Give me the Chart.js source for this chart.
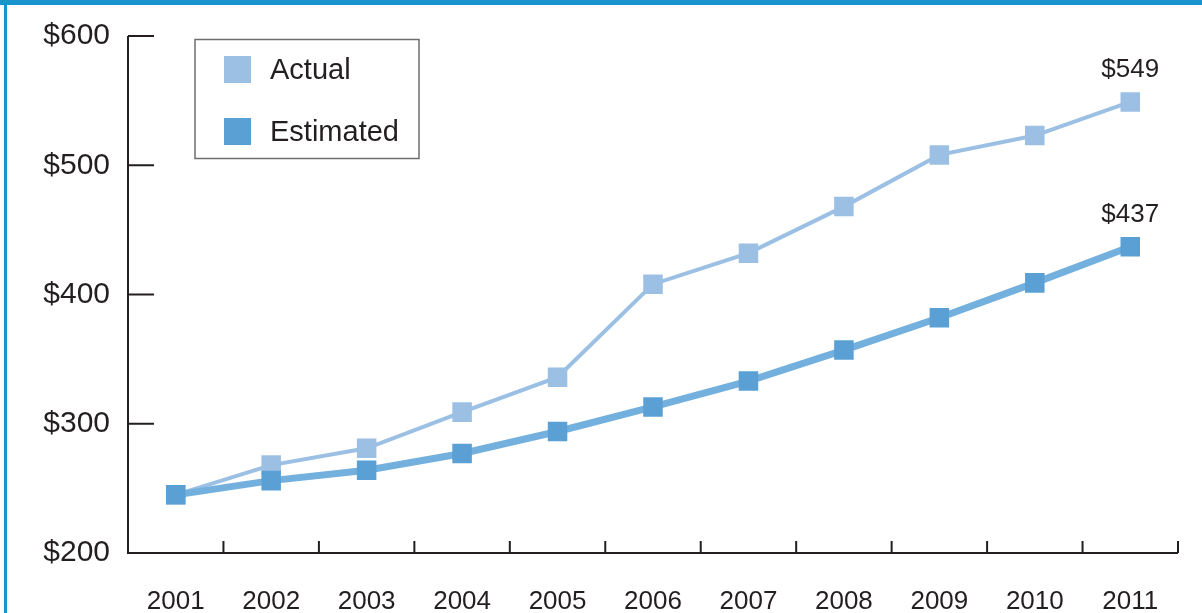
<!DOCTYPE html>
<html>
<head>
<meta charset="utf-8">
<script src="https://cdn.jsdelivr.net/npm/chart.js@4/dist/chart.umd.min.js"></script>
<style>
    html, body { margin: 0; padding: 0; background: #fff; }
    #wrap { position: relative; width: 1202px; height: 613px; overflow: hidden; }
    #topbar { position: absolute; left: 0; top: 0; width: 1202px; height: 5px; background: #1a94cf; }
    #leftbar { position: absolute; left: 4px; top: 0; width: 3px; height: 613px; background: #1a94cf; }
</style>
</head>
<body>
<div id="wrap">
    <canvas id="chart" width="1202" height="613"></canvas>
    <div id="topbar"></div>
    <div id="leftbar"></div>
</div>
<script>
// Chart data
const years = ['2001', '2002', '2003', '2004', '2005', '2006', '2007', '2008', '2009', '2010', '2011'];
const actual = [245, 268, 281, 309, 336, 408, 432, 468, 508, 523, 549];
const estimated = [245, 256, 264, 277, 294, 313, 333, 357, 382, 409, 437];
const yTicks = [200, 300, 400, 500, 600];

const FONT = '"Liberation Sans", Arial, sans-serif';
const INK = '#231f20';

// axis lines + inward tick marks
const axesFrame = {
    id: 'axesFrame',
    afterDraw(chart) {
        const { ctx, chartArea } = chart;
        const x = chart.scales.x;
        const y = chart.scales.y;
        ctx.save();
        ctx.strokeStyle = INK;
        ctx.lineWidth = 2;
        ctx.beginPath();
        ctx.moveTo(chartArea.left, chartArea.top);
        ctx.lineTo(chartArea.left, chartArea.bottom);
        ctx.lineTo(chartArea.right, chartArea.bottom);
        yTicks.forEach(v => {
            const py = y.getPixelForValue(v);
            ctx.moveTo(chartArea.left, py);
            ctx.lineTo(chartArea.left + 26, py);
        });
        const step = (chartArea.right - chartArea.left) / years.length;
        for (let i = 1; i <= years.length; i++) {
            const px = x.getPixelForValue(i - 1) + step / 2;
            ctx.moveTo(px, chartArea.bottom);
            ctx.lineTo(px, chartArea.bottom - 12);
        }
        ctx.stroke();
        ctx.restore();
    }
};

// boxed legend in the top-left corner
const boxLegend = {
    id: 'boxLegend',
    afterDraw(chart) {
        const { ctx } = chart;
        ctx.save();
        ctx.strokeStyle = '#6d6e71';
        ctx.lineWidth = 1.5;
        ctx.strokeRect(195, 39.5, 224, 119);
        ctx.font = '29px ' + FONT;
        ctx.textBaseline = 'middle';
        ctx.fillStyle = INK;
        chart.data.datasets.forEach((ds, i) => {
            const top = 56 + i * 62;
            ctx.fillStyle = ds.pointBackgroundColor;
            ctx.fillRect(224, top, 27, 27);
            ctx.fillStyle = INK;
            ctx.fillText(ds.label, 270, top + 15);
        });
        ctx.restore();
    }
};

// value label above the last point of each series
const endLabels = {
    id: 'endLabels',
    afterDatasetsDraw(chart) {
        const { ctx } = chart;
        ctx.save();
        ctx.font = '26px ' + FONT;
        ctx.fillStyle = INK;
        ctx.textAlign = 'center';
        ctx.textBaseline = 'middle';
        chart.data.datasets.forEach((ds, i) => {
            const pts = chart.getDatasetMeta(i).data;
            const last = pts[pts.length - 1];
            ctx.fillText('$' + ds.data[ds.data.length - 1], last.x, last.y - 32);
        });
        ctx.restore();
    }
};

new Chart(document.getElementById('chart'), {
    type: 'line',
    data: {
        labels: years,
        datasets: [{
            label: 'Actual',
            data: actual,
            borderColor: '#9bc0e4',
            borderWidth: 4,
            pointStyle: 'rect',
            pointRadius: 13.8,
            pointBorderWidth: 0,
            pointBackgroundColor: '#9bc0e4',
            tension: 0,
            order: 1
        }, {
            label: 'Estimated',
            data: estimated,
            borderColor: '#74b0de',
            borderWidth: 7,
            pointStyle: 'rect',
            pointRadius: 13.8,
            pointBorderWidth: 0,
            pointBackgroundColor: '#5aa0d5',
            tension: 0,
            order: 0
        }]
    },
    options: {
        responsive: false,
        animation: false,
        layout: { padding: { top: 33, right: 24, left: 0, bottom: 0 } },
        plugins: {
            legend: { display: false },
            tooltip: { enabled: false }
        },
        scales: {
            x: {
                type: 'category',
                offset: true,
                grid: { display: false, drawTicks: false },
                border: { display: false },
                ticks: { color: INK, font: { family: FONT, size: 26 }, padding: 33, maxRotation: 0 },
                afterFit(scale) { scale.height = 60; }
            },
            y: {
                min: 200,
                max: 600,
                grid: { display: false, drawTicks: false },
                border: { display: false },
                ticks: {
                    stepSize: 100,
                    color: INK,
                    font: { family: FONT, size: 30 },
                    padding: 18,
                    callback: v => '$' + v
                },
                afterFit(scale) { scale.width = 128; }
            }
        }
    },
    plugins: [axesFrame, boxLegend, endLabels]
});
</script>
</body>
</html>
